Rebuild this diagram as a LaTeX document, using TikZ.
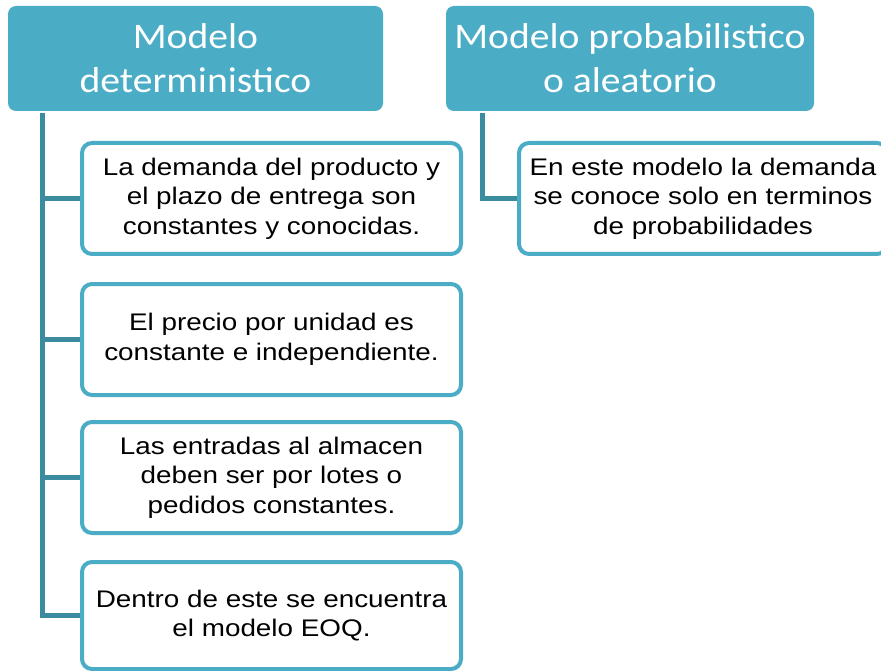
\documentclass[tikz,border=0pt]{standalone}
\usepackage{fontspec}
\setmainfont{Liberation Sans}
\newfontfamily\bodyfont[FakeStretch=1.16]{Liberation Sans}
\newfontfamily\hdrfont[FakeStretch=1.1]{Carlito}
\definecolor{accent}{HTML}{4BACC6}
\definecolor{conn}{HTML}{3C8C9F}
\begin{document}
\begin{tikzpicture}[x=1pt,y=-1pt,
  header/.style={draw=none,fill=accent,rounded corners=8pt,text=white,align=center,
    font=\hdrfont\fontsize{36}{44}\selectfont,inner sep=0pt},
  child/.style={draw=accent,line width=4pt,fill=white,rounded corners=10pt,text=black,align=center,
    font=\bodyfont\fontsize{24}{29.5}\selectfont,inner sep=0pt,minimum width=379pt,minimum height=111pt},
  link/.style={draw=conn,line width=5pt}]
\useasboundingbox (0,0) rectangle (881,671);
\clip (0,0) rectangle (881,671);
\node[header,minimum width=375pt,minimum height=105pt] (h1) at (195.5,58.5) {Modelo\\deterministico};
\node[header,minimum width=368pt,minimum height=105pt] (h2) at (630,58.5) {Modelo probabilistico\\o aleatorio};
\node[child] (b1) at (271.5,198.5) {La demanda del producto y\\el plazo de entrega son\\constantes y conocidas.};
\node[child] (b2) at (271.5,339.5) {El precio por unidad es\\constante e independiente.};
\node[child] (b3) at (271.5,477.5) {Las entradas al almacen\\deben ser por lotes o\\pedidos constantes.};
\node[child,minimum height=107pt] (b4) at (271.5,615.5) {Dentro de este se encuentra\\el modelo EOQ.};
\node[child,minimum width=368pt] (r1) at (703,198.5) {En este modelo la demanda\\se conoce solo en terminos\\de probabilidades};
\coordinate (t1) at (42,113);
\coordinate (t2) at (482,113);
\draw[link] (t1) |- (b4.west);
\draw[link] (t1 |- b1.west) -- (b1.west);
\draw[link] (t1 |- b2.west) -- (b2.west);
\draw[link] (t1 |- b3.west) -- (b3.west);
\draw[link] (t2) |- (r1.west);
\end{tikzpicture}
\end{document}
